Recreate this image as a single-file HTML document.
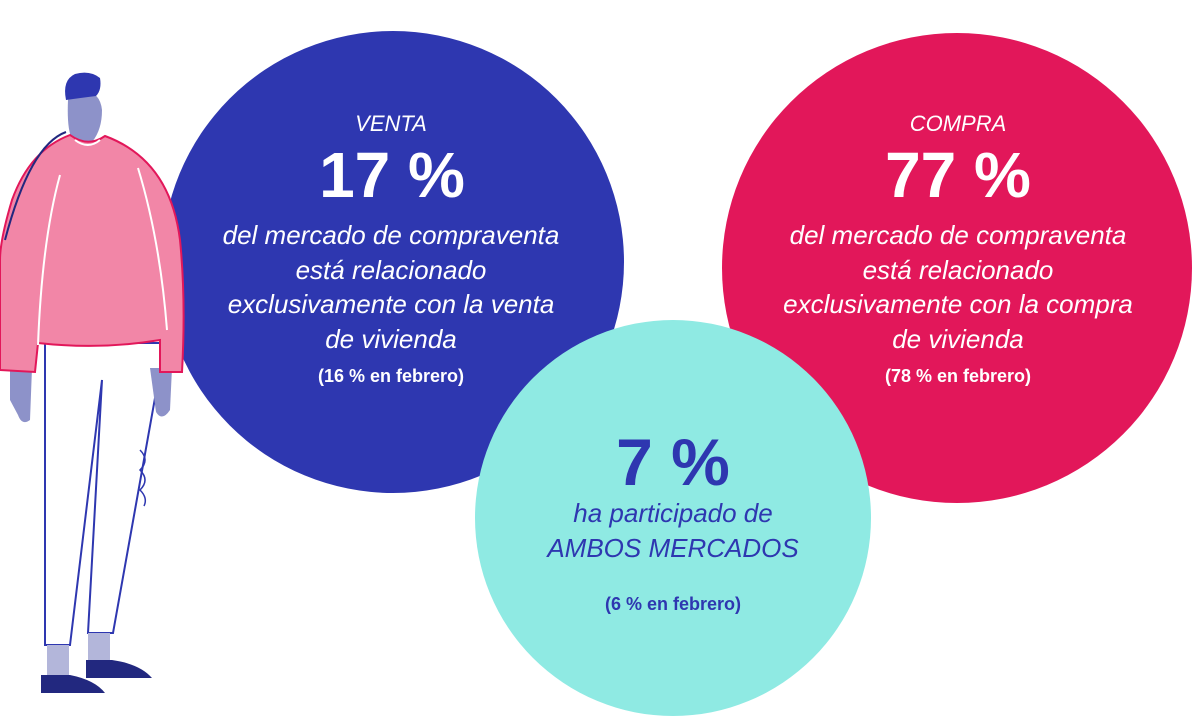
<!DOCTYPE html>
<html><head><meta charset="utf-8"><style>
html,body{margin:0;padding:0;background:#fff;}
body{width:1200px;height:728px;position:relative;overflow:hidden;font-family:"Liberation Sans",sans-serif;}
.t{position:absolute;text-align:center;white-space:nowrap;transform:translateX(-50%);}
.i{font-style:italic;font-size:26px;line-height:34.5px;}
.big{font-weight:bold;font-size:64px;line-height:64px;}
.sm{font-weight:bold;font-size:18px;}
</style></head><body>
<svg width="1200" height="728" style="position:absolute;left:0;top:0">
<circle cx="393" cy="262" r="231" fill="#2e37b0"/>
<circle cx="957" cy="268" r="235" fill="#e2175a"/>
<circle cx="673" cy="518" r="198" fill="#8feae3"/>
<path d="M45 343 L45 645 L70 645 L102 380 L88 633 L113 633 L160 370 L160 343Z" fill="#fff" stroke="#2e37b0" stroke-width="2"/>
<path d="M140 450 q10 10 0 20 q10 10 0 20 q8 8 4 16" fill="none" stroke="#2e37b0" stroke-width="1.5"/>
<rect x="47" y="645" width="22" height="30" fill="#b3b6da"/>
<rect x="88" y="633" width="22" height="28" fill="#b3b6da"/>
<path d="M41 675 L70 675 Q95 680 105 693 L41 693Z" fill="#22287f"/>
<path d="M86 660 L112 660 Q140 664 152 678 L86 678Z" fill="#22287f"/>
<path d="M10 368 L32 368 L30 420 Q22 426 18 415 L10 400Z" fill="#8d92c9"/>
<path d="M150 368 L172 368 L170 410 Q162 422 156 412Z" fill="#8d92c9"/>
<path d="M68 100 Q66 145 80 145 L92 142 Q102 130 102 110 Q100 92 85 92 Q70 92 68 100Z" fill="#8d92c9"/>
<path d="M66 100 Q62 80 75 74 Q90 70 100 78 Q102 90 96 96 Q80 98 66 100Z" fill="#2e37b0"/>
<path d="M70 135 Q30 150 12 200 Q0 240 0 260 L0 370 L35 372 L38 343 Q100 350 160 340 L160 372 L182 372 Q186 300 180 240 Q170 160 105 136 Q88 148 70 135Z" fill="#f286a7" stroke="#e2175a" stroke-width="2"/>
<path d="M75 140 Q88 150 100 140" fill="none" stroke="#fff" stroke-width="2"/>
<path d="M60 175 Q42 240 38 345" fill="none" stroke="#fff" stroke-width="2"/>
<path d="M138 168 Q160 240 167 330" fill="none" stroke="#fff" stroke-width="2"/>
<path d="M66 132 Q30 145 5 240" fill="none" stroke="#22287f" stroke-width="2"/>
</svg>
<div class="t i" style="left:391px;top:107px;color:#fff;font-size:22px">VENTA</div>
<div class="t big" style="left:392px;top:143px;color:#fff">17 %</div>
<div class="t i" style="left:391px;top:218px;color:#fff">del mercado de compraventa<br>está relacionado<br>exclusivamente con la venta<br>de vivienda</div>
<div class="t sm" style="left:391px;top:366px;color:#fff">(16 % en febrero)</div>
<div class="t i" style="left:958px;top:107px;color:#fff;font-size:22px">COMPRA</div>
<div class="t big" style="left:958px;top:143px;color:#fff">77 %</div>
<div class="t i" style="left:958px;top:218px;color:#fff">del mercado de compraventa<br>está relacionado<br>exclusivamente con la compra<br>de vivienda</div>
<div class="t sm" style="left:958px;top:366px;color:#fff">(78 % en febrero)</div>
<div class="t big" style="left:673px;top:430px;color:#2e37b0;font-size:66px">7 %</div>
<div class="t i" style="left:673px;top:496px;color:#2e37b0">ha participado de<br>AMBOS MERCADOS</div>
<div class="t sm" style="left:673px;top:594px;color:#2e37b0">(6 % en febrero)</div>
</body></html>
